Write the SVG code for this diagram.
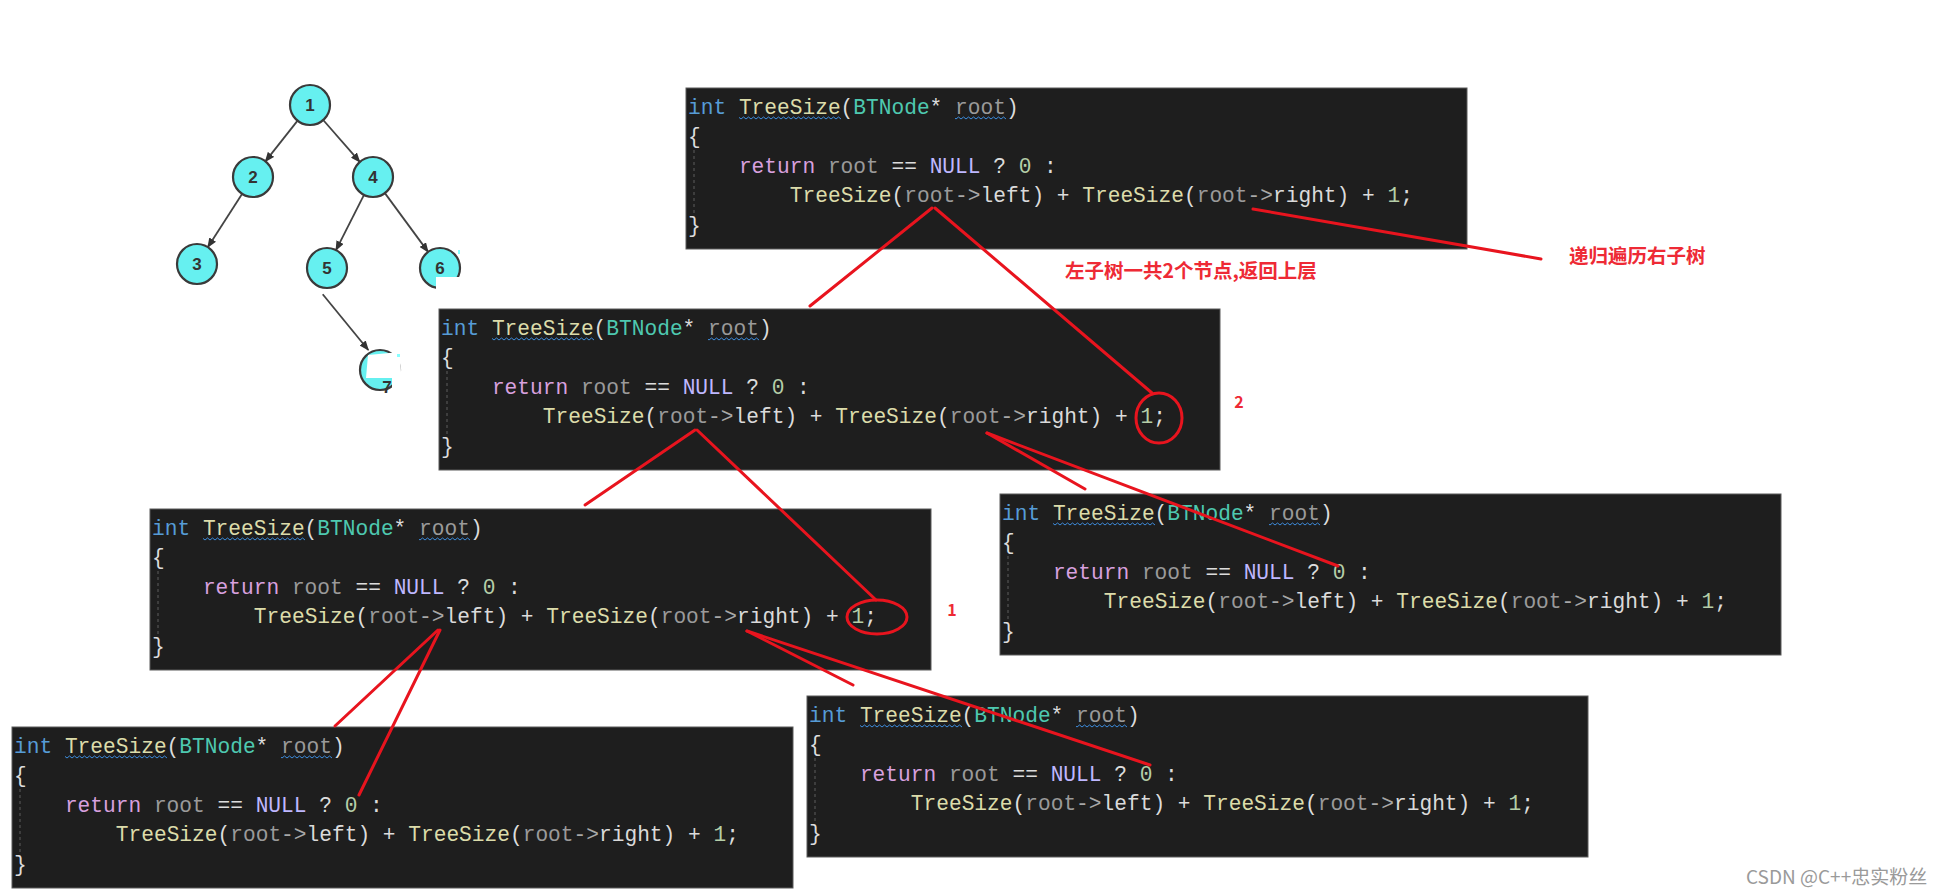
<svg xmlns="http://www.w3.org/2000/svg" width="1949" height="896" viewBox="0 0 1949 896">
<style>
.bg{fill:#1E1E1E;stroke:#5a5a5a;stroke-width:1}
.c{font-family:"Liberation Mono","DejaVu Sans Mono",monospace;font-size:21.2px;fill:#DCDCDC}
.kw{fill:#569CD6}.fn{fill:#DCDCAA}.ty{fill:#4EC9B0}.pa{fill:#9A9A9A}.kw2{fill:#D8A0DF}.mac{fill:#BEB7FF}.num{fill:#B5CEA8}.ar{fill:#A8A8A8}.mem{fill:#DADADA}.p{fill:#DCDCDC}
.guide{stroke:#5c5c5c;stroke-width:1;stroke-dasharray:3 3}
.tn{fill:#66F0F0;stroke:#3a3a3a;stroke-width:2.2}
.tl{font-family:"Liberation Sans",Arial,sans-serif;font-size:17px;font-weight:bold;fill:#333;text-anchor:middle}
.te{stroke:#444;stroke-width:1.8;fill:none}
.red{stroke:#E8141E;stroke-width:3;fill:none;stroke-linecap:round}
.rl{font-family:"Noto Sans CJK SC",sans-serif;font-weight:bold;fill:#EE2A35}
.wm{font-family:"Noto Sans CJK SC",sans-serif;font-size:19px;fill:#9a9a9a}
</style>
<defs>
<marker id="ah" markerUnits="userSpaceOnUse" markerWidth="10" markerHeight="8" refX="9" refY="4" orient="auto">
<path d="M0,0 L10,4 L0,8 z" fill="#333"/>
</marker>
<pattern id="sq" width="5" height="4" patternUnits="userSpaceOnUse">
<path d="M0,3 L2.5,1 L5,3" stroke="#3C8BDC" stroke-width="1" fill="none"/>
</pattern>
</defs>
<rect width="1949" height="896" fill="#fff"/>

<g id="tree">
<g id="tree-edges">
<line class="te" x1="297.6" y1="120.6" x2="265.4" y2="161.4" marker-end="url(#ah)"/>
<line class="te" x1="323.2" y1="120" x2="359.8" y2="161.9" marker-end="url(#ah)"/>
<line class="te" x1="242.2" y1="193.8" x2="207.8" y2="247.2" marker-end="url(#ah)"/>
<line class="te" x1="364" y1="194.8" x2="336" y2="250.2" marker-end="url(#ah)"/>
<line class="te" x1="384.9" y1="193.1" x2="428.1" y2="251.9" marker-end="url(#ah)"/>
<line class="te" x1="322.7" y1="294.3" x2="368.3" y2="350" marker-end="url(#ah)"/>
</g>
<g id="t1"><circle class="tn" cx="310" cy="105" r="20"/><text class="tl" x="310" y="111">1</text></g>
<g id="t2"><circle class="tn" cx="253" cy="177" r="20"/><text class="tl" x="253" y="183">2</text></g>
<g id="t4"><circle class="tn" cx="373" cy="177" r="20"/><text class="tl" x="373" y="183">4</text></g>
<g id="t3"><circle class="tn" cx="197" cy="264" r="20"/><text class="tl" x="197" y="270">3</text></g>
<g id="t5"><circle class="tn" cx="327" cy="268" r="20"/><text class="tl" x="327" y="274">5</text></g>
<g id="t6"><circle class="tn" cx="440" cy="268" r="20"/><text class="tl" x="440" y="274">6</text><rect x="436" y="277" width="28" height="17" fill="#fff"/><rect x="458" y="250" width="2" height="4" fill="#8ff"/></g>
<g id="t7"><circle class="tn" cx="380" cy="370" r="20"/><path d="M368,355 L400,352 L402,392 L392,392 L392,378 L366,378 Z" fill="#fff"/><rect x="397" y="354" width="3" height="3" fill="#8ff"/><text class="tl" x="387" y="393">7</text></g>
</g>

<g id="box-A" transform="translate(686,88)">
<rect class="bg" width="781" height="161"/>
<line class="guide" x1="8" y1="62" x2="8" y2="130"/>
<rect x="53" y="28" width="102" height="4" fill="url(#sq)"/><rect x="269" y="28" width="51" height="4" fill="url(#sq)"/>
<text class="c" y="25.5"><tspan x="2" class="kw">int</tspan> <tspan class="fn">TreeSize</tspan><tspan class="p">(</tspan><tspan class="ty">BTNode</tspan><tspan class="p">* </tspan><tspan class="pa">root</tspan><tspan class="p">)</tspan></text>
<text class="c" x="2" y="55">{</text>
<text class="c" y="84.5"><tspan x="52.9" class="kw2">return</tspan> <tspan class="pa">root</tspan><tspan class="p"> == </tspan><tspan class="mac">NULL</tspan><tspan class="p"> ? </tspan><tspan class="num">0</tspan><tspan class="p"> :</tspan></text>
<text class="c" y="114"><tspan x="103.8" class="fn">TreeSize</tspan><tspan class="p">(</tspan><tspan class="pa">root</tspan><tspan class="ar">-&gt;</tspan><tspan class="mem">left</tspan><tspan class="p">) + </tspan><tspan class="fn">TreeSize</tspan><tspan class="p">(</tspan><tspan class="pa">root</tspan><tspan class="ar">-&gt;</tspan><tspan class="mem">right</tspan><tspan class="p">) + </tspan><tspan class="num">1</tspan><tspan class="p">;</tspan></text>
<text class="c" x="2" y="143.5">}</text>
</g>

<g id="box-B" transform="translate(439,309)">
<rect class="bg" width="781" height="161"/>
<line class="guide" x1="8" y1="62" x2="8" y2="130"/>
<rect x="53" y="28" width="102" height="4" fill="url(#sq)"/><rect x="269" y="28" width="51" height="4" fill="url(#sq)"/>
<text class="c" y="25.5"><tspan x="2" class="kw">int</tspan> <tspan class="fn">TreeSize</tspan><tspan class="p">(</tspan><tspan class="ty">BTNode</tspan><tspan class="p">* </tspan><tspan class="pa">root</tspan><tspan class="p">)</tspan></text>
<text class="c" x="2" y="55">{</text>
<text class="c" y="84.5"><tspan x="52.9" class="kw2">return</tspan> <tspan class="pa">root</tspan><tspan class="p"> == </tspan><tspan class="mac">NULL</tspan><tspan class="p"> ? </tspan><tspan class="num">0</tspan><tspan class="p"> :</tspan></text>
<text class="c" y="114"><tspan x="103.8" class="fn">TreeSize</tspan><tspan class="p">(</tspan><tspan class="pa">root</tspan><tspan class="ar">-&gt;</tspan><tspan class="mem">left</tspan><tspan class="p">) + </tspan><tspan class="fn">TreeSize</tspan><tspan class="p">(</tspan><tspan class="pa">root</tspan><tspan class="ar">-&gt;</tspan><tspan class="mem">right</tspan><tspan class="p">) + </tspan><tspan class="num">1</tspan><tspan class="p">;</tspan></text>
<text class="c" x="2" y="143.5">}</text>
</g>

<g id="box-C" transform="translate(1000,494)">
<rect class="bg" width="781" height="161"/>
<line class="guide" x1="8" y1="62" x2="8" y2="130"/>
<rect x="53" y="28" width="102" height="4" fill="url(#sq)"/><rect x="269" y="28" width="51" height="4" fill="url(#sq)"/>
<text class="c" y="25.5"><tspan x="2" class="kw">int</tspan> <tspan class="fn">TreeSize</tspan><tspan class="p">(</tspan><tspan class="ty">BTNode</tspan><tspan class="p">* </tspan><tspan class="pa">root</tspan><tspan class="p">)</tspan></text>
<text class="c" x="2" y="55">{</text>
<text class="c" y="84.5"><tspan x="52.9" class="kw2">return</tspan> <tspan class="pa">root</tspan><tspan class="p"> == </tspan><tspan class="mac">NULL</tspan><tspan class="p"> ? </tspan><tspan class="num">0</tspan><tspan class="p"> :</tspan></text>
<text class="c" y="114"><tspan x="103.8" class="fn">TreeSize</tspan><tspan class="p">(</tspan><tspan class="pa">root</tspan><tspan class="ar">-&gt;</tspan><tspan class="mem">left</tspan><tspan class="p">) + </tspan><tspan class="fn">TreeSize</tspan><tspan class="p">(</tspan><tspan class="pa">root</tspan><tspan class="ar">-&gt;</tspan><tspan class="mem">right</tspan><tspan class="p">) + </tspan><tspan class="num">1</tspan><tspan class="p">;</tspan></text>
<text class="c" x="2" y="143.5">}</text>
</g>

<g id="box-D" transform="translate(150,509)">
<rect class="bg" width="781" height="161"/>
<line class="guide" x1="8" y1="62" x2="8" y2="130"/>
<rect x="53" y="28" width="102" height="4" fill="url(#sq)"/><rect x="269" y="28" width="51" height="4" fill="url(#sq)"/>
<text class="c" y="25.5"><tspan x="2" class="kw">int</tspan> <tspan class="fn">TreeSize</tspan><tspan class="p">(</tspan><tspan class="ty">BTNode</tspan><tspan class="p">* </tspan><tspan class="pa">root</tspan><tspan class="p">)</tspan></text>
<text class="c" x="2" y="55">{</text>
<text class="c" y="84.5"><tspan x="52.9" class="kw2">return</tspan> <tspan class="pa">root</tspan><tspan class="p"> == </tspan><tspan class="mac">NULL</tspan><tspan class="p"> ? </tspan><tspan class="num">0</tspan><tspan class="p"> :</tspan></text>
<text class="c" y="114"><tspan x="103.8" class="fn">TreeSize</tspan><tspan class="p">(</tspan><tspan class="pa">root</tspan><tspan class="ar">-&gt;</tspan><tspan class="mem">left</tspan><tspan class="p">) + </tspan><tspan class="fn">TreeSize</tspan><tspan class="p">(</tspan><tspan class="pa">root</tspan><tspan class="ar">-&gt;</tspan><tspan class="mem">right</tspan><tspan class="p">) + </tspan><tspan class="num">1</tspan><tspan class="p">;</tspan></text>
<text class="c" x="2" y="143.5">}</text>
</g>

<g id="box-E" transform="translate(12,727)">
<rect class="bg" width="781" height="161"/>
<line class="guide" x1="8" y1="62" x2="8" y2="130"/>
<rect x="53" y="28" width="102" height="4" fill="url(#sq)"/><rect x="269" y="28" width="51" height="4" fill="url(#sq)"/>
<text class="c" y="25.5"><tspan x="2" class="kw">int</tspan> <tspan class="fn">TreeSize</tspan><tspan class="p">(</tspan><tspan class="ty">BTNode</tspan><tspan class="p">* </tspan><tspan class="pa">root</tspan><tspan class="p">)</tspan></text>
<text class="c" x="2" y="55">{</text>
<text class="c" y="84.5"><tspan x="52.9" class="kw2">return</tspan> <tspan class="pa">root</tspan><tspan class="p"> == </tspan><tspan class="mac">NULL</tspan><tspan class="p"> ? </tspan><tspan class="num">0</tspan><tspan class="p"> :</tspan></text>
<text class="c" y="114"><tspan x="103.8" class="fn">TreeSize</tspan><tspan class="p">(</tspan><tspan class="pa">root</tspan><tspan class="ar">-&gt;</tspan><tspan class="mem">left</tspan><tspan class="p">) + </tspan><tspan class="fn">TreeSize</tspan><tspan class="p">(</tspan><tspan class="pa">root</tspan><tspan class="ar">-&gt;</tspan><tspan class="mem">right</tspan><tspan class="p">) + </tspan><tspan class="num">1</tspan><tspan class="p">;</tspan></text>
<text class="c" x="2" y="143.5">}</text>
</g>

<g id="box-F" transform="translate(807,696)">
<rect class="bg" width="781" height="161"/>
<line class="guide" x1="8" y1="62" x2="8" y2="130"/>
<rect x="53" y="28" width="102" height="4" fill="url(#sq)"/><rect x="269" y="28" width="51" height="4" fill="url(#sq)"/>
<text class="c" y="25.5"><tspan x="2" class="kw">int</tspan> <tspan class="fn">TreeSize</tspan><tspan class="p">(</tspan><tspan class="ty">BTNode</tspan><tspan class="p">* </tspan><tspan class="pa">root</tspan><tspan class="p">)</tspan></text>
<text class="c" x="2" y="55">{</text>
<text class="c" y="84.5"><tspan x="52.9" class="kw2">return</tspan> <tspan class="pa">root</tspan><tspan class="p"> == </tspan><tspan class="mac">NULL</tspan><tspan class="p"> ? </tspan><tspan class="num">0</tspan><tspan class="p"> :</tspan></text>
<text class="c" y="114"><tspan x="103.8" class="fn">TreeSize</tspan><tspan class="p">(</tspan><tspan class="pa">root</tspan><tspan class="ar">-&gt;</tspan><tspan class="mem">left</tspan><tspan class="p">) + </tspan><tspan class="fn">TreeSize</tspan><tspan class="p">(</tspan><tspan class="pa">root</tspan><tspan class="ar">-&gt;</tspan><tspan class="mem">right</tspan><tspan class="p">) + </tspan><tspan class="num">1</tspan><tspan class="p">;</tspan></text>
<text class="c" x="2" y="143.5">}</text>
</g>

<g id="connectors">
<line class="red" x1="932" y1="208" x2="810" y2="306"/>
<line class="red" x1="935" y1="208" x2="1152" y2="393"/>
<line class="red" x1="1253" y1="209" x2="1541" y2="259"/>
<line class="red" x1="695" y1="430" x2="585" y2="505"/>
<line class="red" x1="697" y1="430" x2="876" y2="600"/>
<line class="red" x1="987" y1="433" x2="1085" y2="489"/>
<line class="red" x1="987" y1="433" x2="1338" y2="566"/>
<line class="red" x1="438" y1="630" x2="335" y2="726"/>
<line class="red" x1="440" y1="630" x2="359" y2="795"/>
<line class="red" x1="747" y1="631" x2="853" y2="685"/>
<line class="red" x1="747" y1="631" x2="1150" y2="765"/>
<ellipse class="red" cx="1159" cy="418" rx="23" ry="25"/>
<ellipse class="red" cx="877" cy="617" rx="30" ry="17"/>
</g>

<g id="labels">
<text class="rl" x="1065" y="278" font-size="19.5">左子树一共2个节点,返回上层</text>
<text class="rl" x="1569" y="263" font-size="19.5">递归遍历右子树</text>
<text class="rl" x="1239" y="408" font-size="16" text-anchor="middle">2</text>
<text class="rl" x="952" y="616" font-size="16" text-anchor="middle">1</text>
<text class="wm" x="1746" y="884">CSDN @C++忠实粉丝</text>
</g>
</svg>
